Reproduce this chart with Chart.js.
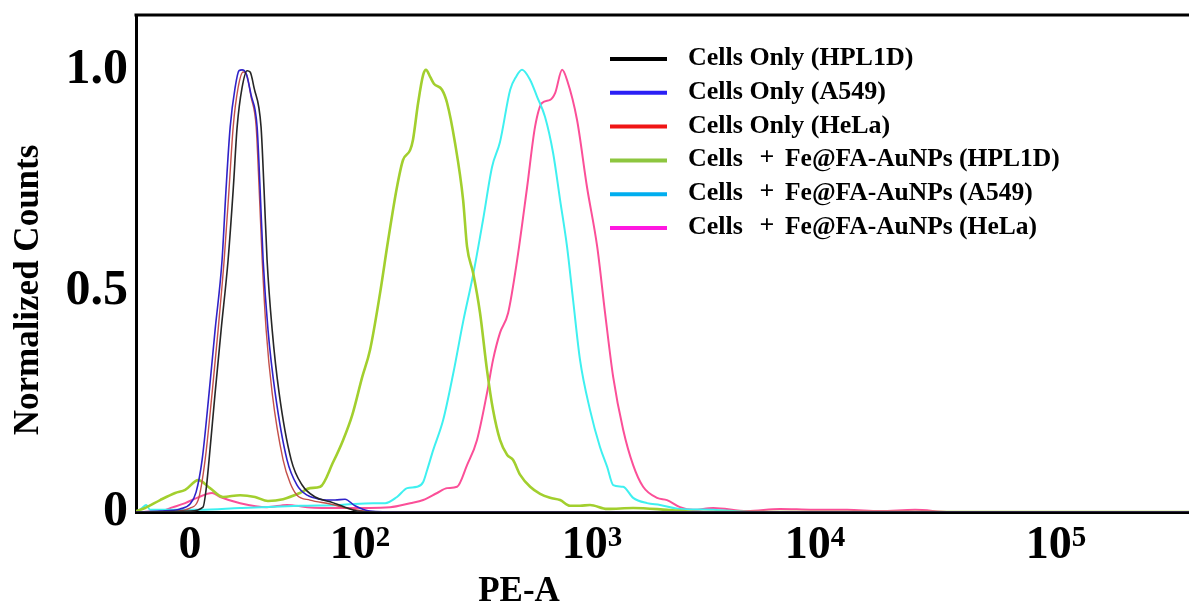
<!DOCTYPE html>
<html>
<head>
<meta charset="utf-8">
<title>PE-A histogram</title>
<script src="https://cdn.jsdelivr.net/npm/chart.js@4.4.1/dist/chart.umd.min.js"></script>
<style>
  html, body { margin: 0; padding: 0; background: #fff; }
  #wrap { width: 1189px; height: 605px; position: relative; }
</style>
</head>
<body>
<div id="wrap"><canvas id="c" width="1189" height="605"></canvas></div>
<script>
// Histogram traces: [display position in decades, normalized count]
const cellsHpl1d = [[1.034,0],[1.267,0.002],[1.323,0.011],[1.336,0.050],[1.349,0.118],[1.375,0.269],[1.401,0.412],[1.431,0.570],[1.453,0.729],[1.470,0.871],[1.491,0.959],[1.513,0.998],[1.526,0.995],[1.543,0.959],[1.573,0.871],[1.586,0.729],[1.599,0.570],[1.621,0.412],[1.651,0.269],[1.703,0.118],[1.750,0.061],[1.806,0.034],[1.871,0.023],[1.935,0.011],[1.987,0.002],[2.086,0],[5.573,0]];
const cellsA549 = [[1.034,0],[1.138,0.002],[1.224,0.007],[1.267,0.018],[1.293,0.045],[1.319,0.118],[1.349,0.269],[1.375,0.412],[1.405,0.570],[1.422,0.729],[1.440,0.871],[1.461,0.959],[1.478,0.998],[1.491,1.000],[1.509,0.991],[1.530,0.943],[1.556,0.871],[1.569,0.729],[1.582,0.570],[1.603,0.412],[1.634,0.269],[1.685,0.118],[1.728,0.061],[1.772,0.038],[1.828,0.029],[1.892,0.027],[1.935,0.029],[1.978,0.014],[2.043,0.002],[2.172,0],[5.573,0]];
const cellsHela = [[1.034,0],[1.207,0.002],[1.267,0.009],[1.302,0.027],[1.332,0.118],[1.362,0.269],[1.388,0.412],[1.414,0.570],[1.435,0.729],[1.453,0.871],[1.474,0.959],[1.496,0.995],[1.513,0.986],[1.530,0.939],[1.552,0.871],[1.565,0.729],[1.578,0.570],[1.595,0.412],[1.621,0.269],[1.668,0.118],[1.698,0.066],[1.728,0.038],[1.784,0.027],[1.871,0.018],[1.957,0.007],[2.022,0.002],[2.129,0],[5.573,0]];
const npHpl1d = [[1.034,0.002],[1.073,0.009],[1.138,0.027],[1.203,0.043],[1.246,0.050],[1.302,0.072],[1.353,0.054],[1.409,0.034],[1.483,0.038],[1.547,0.034],[1.603,0.025],[1.668,0.029],[1.741,0.043],[1.784,0.054],[1.828,0.057],[1.884,0.113],[1.927,0.163],[1.966,0.219],[2.009,0.305],[2.043,0.367],[2.086,0.495],[2.121,0.615],[2.159,0.735],[2.185,0.796],[2.216,0.819],[2.228,0.842],[2.250,0.925],[2.272,0.989],[2.284,1.000],[2.302,0.984],[2.319,0.968],[2.353,0.955],[2.375,0.925],[2.409,0.835],[2.444,0.706],[2.461,0.600],[2.487,0.541],[2.517,0.450],[2.547,0.321],[2.573,0.231],[2.603,0.163],[2.634,0.129],[2.659,0.118],[2.690,0.084],[2.733,0.057],[2.776,0.041],[2.819,0.032],[2.862,0.027],[2.905,0.014],[2.948,0.014],[2.991,0.016],[3.065,0.007],[3.177,0.009],[3.323,0.005],[3.466,0],[5.573,0]];
const npA549 = [[1.034,0],[1.060,0.009],[1.078,0.016],[1.095,0.005],[1.310,0.005],[1.483,0.009],[1.741,0.014],[1.914,0.016],[2.056,0.020],[2.108,0.020],[2.159,0.034],[2.203,0.054],[2.246,0.057],[2.272,0.068],[2.289,0.095],[2.315,0.140],[2.358,0.208],[2.401,0.312],[2.444,0.430],[2.487,0.536],[2.530,0.661],[2.569,0.781],[2.603,0.837],[2.647,0.955],[2.672,0.984],[2.698,1.000],[2.733,0.977],[2.763,0.939],[2.797,0.894],[2.832,0.812],[2.862,0.706],[2.892,0.600],[2.918,0.480],[2.948,0.344],[2.991,0.231],[3.034,0.147],[3.065,0.102],[3.091,0.061],[3.134,0.057],[3.177,0.032],[3.237,0.020],[3.293,0.016],[3.379,0.007],[3.522,0.005],[3.681,0],[5.573,0]];
const npHela = [[1.034,0],[1.138,0.002],[1.194,0.011],[1.246,0.020],[1.297,0.032],[1.362,0.043],[1.397,0.034],[1.483,0.020],[1.599,0.011],[1.685,0.016],[1.772,0.011],[1.914,0.009],[2.129,0.011],[2.216,0.020],[2.272,0.027],[2.332,0.043],[2.375,0.054],[2.418,0.057],[2.461,0.106],[2.504,0.163],[2.547,0.269],[2.573,0.344],[2.603,0.405],[2.638,0.450],[2.677,0.570],[2.720,0.735],[2.754,0.871],[2.784,0.925],[2.819,0.932],[2.841,0.948],[2.871,1.000],[2.892,0.977],[2.935,0.887],[2.978,0.735],[3.022,0.600],[3.056,0.450],[3.091,0.305],[3.134,0.186],[3.177,0.106],[3.220,0.057],[3.280,0.032],[3.323,0.027],[3.379,0.011],[3.435,0.005],[3.522,0.009],[3.668,0.002],[3.810,0.007],[3.953,0.005],[4.099,0.005],[4.241,0.002],[4.392,0.005],[4.543,0],[5.573,0]];

const seriesLabels = [
  'Cells Only (HPL1D)',
  'Cells Only (A549)',
  'Cells Only (HeLa)',
  'Cells + Fe@FA-AuNPs (HPL1D)',
  'Cells + Fe@FA-AuNPs (A549)',
  'Cells + Fe@FA-AuNPs (HeLa)'
];
const seriesData = [cellsHpl1d, cellsA549, cellsHela, npHpl1d, npA549, npHela];
const lineColors = ['#262626', '#2f22c8', '#c4504a', '#a2cf2e', '#3ff0f0', '#fb4f98'];
const lineWidths = [1.6, 1.6, 1.4, 2.6, 2, 2];
const legendColors = ['#000000', '#2a1ff5', '#f01515', '#8dc63f', '#00aeef', '#ff18e0'];

// Axis ticks
const xRange = [1.034, 5.573];
const xTickValues = [1.267, 2, 3, 3.961, 5];
const xTickBase = ['0', '10', '10', '10', '10'];
const xTickSup = ['', '2', '3', '4', '5'];
const yTickValues = [0, 0.5, 1];
const yTickLabels = ['0', '0.5', '1.0'];
const yMax = 1.124;

const SERIF = '"Liberation Serif", "Times New Roman", serif';

function noScalePadding(scale) {
  scale.paddingTop = 0;
  scale.paddingBottom = 0;
  scale.paddingLeft = 0;
  scale.paddingRight = 0;
}

const decor = {
  id: 'decor',
  afterDraw(chart) {
    const { ctx, chartArea: a, scales: { x } } = chart;
    ctx.save();

    // top frame line
    ctx.strokeStyle = '#000';
    ctx.lineWidth = 3;
    ctx.beginPath();
    ctx.moveTo(a.left - 1.5, a.top);
    ctx.lineTo(chart.width, a.top);
    ctx.stroke();

    // x tick labels with superscript exponents
    ctx.fillStyle = '#000';
    ctx.textAlign = 'left';
    ctx.textBaseline = 'alphabetic';
    xTickValues.forEach((v, i) => {
      const px = x.getPixelForValue(v);
      ctx.font = 'bold 46px ' + SERIF;
      const wb = ctx.measureText(xTickBase[i]).width;
      ctx.font = 'bold 29px ' + SERIF;
      const ws = xTickSup[i] ? ctx.measureText(xTickSup[i]).width : 0;
      const left = px - (wb + ws) / 2;
      ctx.font = 'bold 46px ' + SERIF;
      ctx.fillText(xTickBase[i], left, a.bottom + 46);
      if (xTickSup[i]) {
        ctx.font = 'bold 29px ' + SERIF;
        ctx.fillText(xTickSup[i], left + wb, a.bottom + 34);
      }
    });

    // axis titles
    ctx.font = 'bold 35px ' + SERIF;
    ctx.textAlign = 'center';
    ctx.fillText('PE-A', 519, 601);
    ctx.save();
    ctx.translate(38, 290);
    ctx.rotate(-Math.PI / 2);
    ctx.fillText('Normalized Counts', 0, 0);
    ctx.restore();

    // legend
    const lx0 = 610, lx1 = 667, tx = 688, y0 = 59, step = 33.8;
    seriesLabels.forEach((label, i) => {
      const ly = y0 + i * step;
      ctx.strokeStyle = legendColors[i];
      ctx.lineWidth = 4;
      ctx.beginPath();
      ctx.moveTo(lx0, ly);
      ctx.lineTo(lx1, ly);
      ctx.stroke();
      ctx.fillStyle = '#000';
      ctx.font = 'bold 26px ' + SERIF;
      ctx.textAlign = 'left';
      const by = ly + 6;
      const parts = label.split(' + ');
      if (parts.length === 2) {
        ctx.fillText(parts[0], tx, by);
        ctx.textAlign = 'center';
        ctx.fillText('+', 767, by - 1);
        ctx.textAlign = 'left';
        ctx.font = 'bold 25.5px ' + SERIF;
        ctx.fillText(parts[1], 785, by);
      } else {
        ctx.fillText(label, tx, by);
      }
    });
    ctx.restore();
  }
};

new Chart(document.getElementById('c'), {
  type: 'line',
  data: {
    datasets: seriesData.map((pts, i) => ({
      label: seriesLabels[i],
      data: pts.map(p => ({ x: p[0], y: p[1] })),
      borderColor: lineColors[i],
      borderWidth: lineWidths[i],
      pointRadius: 0,
      fill: false,
      cubicInterpolationMode: 'monotone'
    }))
  },
  options: {
    responsive: false,
    animation: false,
    events: [],
    layout: { padding: { top: 15, right: 0, left: 0, bottom: 0 } },
    plugins: { legend: { display: false }, tooltip: { enabled: false } },
    scales: {
      x: {
        type: 'linear',
        min: xRange[0],
        max: xRange[1],
        grid: { display: false, drawTicks: false },
        border: { display: true, color: '#000', width: 3 },
        ticks: { display: false },
        afterFit(scale) { scale.height = 93; noScalePadding(scale); }
      },
      y: {
        type: 'linear',
        min: 0,
        max: yMax,
        grid: { display: false, drawTicks: false },
        border: { display: true, color: '#000', width: 3 },
        afterBuildTicks(scale) { scale.ticks = yTickValues.map(v => ({ value: v })); },
        afterFit(scale) { scale.width = 136; noScalePadding(scale); },
        ticks: {
          padding: 8,
          color: '#000',
          font: { family: SERIF, size: 50, weight: 'bold' },
          callback(value, index) { return yTickLabels[index]; }
        }
      }
    }
  },
  plugins: [decor]
});
</script>
</body>
</html>
